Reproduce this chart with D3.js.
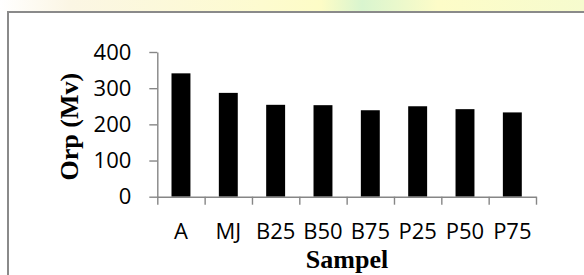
<!DOCTYPE html>
<html>
<head>
<meta charset="utf-8">
<script src="https://cdn.jsdelivr.net/npm/d3@7"></script>
<style>
  body { margin: 0; background: #fff; }
  svg { display: block; }
</style>
</head>
<body>
<div id="chart"></div>
<script>
const categories = ['A', 'MJ', 'B25', 'B50', 'B75', 'P25', 'P50', 'P75'];
const orpValues = [341, 287, 254, 253, 239, 250, 242, 233];
const yTicks = [0, 100, 200, 300, 400];

const width = 584;
const height = 275;
const margin = { top: 52, bottom: 78.3, left: 157.3, right: 48 };

const svg = d3.select('#chart')
  .append('svg')
  .attr('width', width)
  .attr('height', height)
  .attr('viewBox', [0, 0, width, height]);

// faint watermark strip above the chart frame
const grad = svg.append('defs').append('linearGradient')
  .attr('id', 'wm')
  .attr('x1', 0).attr('x2', 1).attr('y1', 0).attr('y2', 0);
grad.append('stop').attr('offset', '0').attr('stop-color', '#ffffff');
grad.append('stop').attr('offset', '0.12').attr('stop-color', '#fbf6e4');
grad.append('stop').attr('offset', '0.45').attr('stop-color', '#fdfbcf');
grad.append('stop').attr('offset', '0.55').attr('stop-color', '#fdfcc6');
grad.append('stop').attr('offset', '0.62').attr('stop-color', '#d9f5cf');
grad.append('stop').attr('offset', '0.75').attr('stop-color', '#fdfcc8');
grad.append('stop').attr('offset', '1').attr('stop-color', '#f6fbce');
svg.append('rect')
  .attr('x', 0).attr('y', 0)
  .attr('width', width).attr('height', 12)
  .attr('fill', 'url(#wm)');

// chart frame
svg.append('rect')
  .attr('x', 8).attr('y', 12)
  .attr('width', width + 10).attr('height', height)
  .attr('fill', '#fff')
  .attr('stroke', '#8a8a8a')
  .attr('stroke-width', 2);

const x = d3.scaleBand()
  .domain(categories)
  .range([margin.left, width - margin.right])
  .paddingInner(0.6)
  .paddingOuter(0.3);

const xEdges = d3.scaleLinear()
  .domain([0, categories.length])
  .range([margin.left, width - margin.right]);

const y = d3.scaleLinear()
  .domain([0, 400])
  .range([height - margin.bottom, margin.top]);

svg.append('g')
  .attr('fill', '#000')
  .selectAll('rect')
  .data(orpValues)
  .join('rect')
    .attr('x', (d, i) => x(categories[i]))
    .attr('y', d => y(d))
    .attr('width', x.bandwidth())
    .attr('height', d => y(0) - y(d));

function styleAxis(g) {
  g.selectAll('.domain, line').attr('stroke', '#868686').attr('stroke-width', 1.4);
  g.selectAll('text').attr('fill', '#000');
}

// y axis
svg.append('g')
  .attr('transform', `translate(${margin.left},0)`)
  .call(d3.axisLeft(y).tickValues(yTicks).tickSize(8).tickSizeOuter(0).tickPadding(18))
  .attr('font-family', '"Open Sans", sans-serif')
  .attr('font-size', 22)
  .call(styleAxis);

// x axis: ticks on band edges
svg.append('g')
  .attr('transform', `translate(0,${y(0)})`)
  .call(d3.axisBottom(xEdges).tickValues(d3.range(categories.length + 1)).tickFormat('').tickSize(8).tickSizeOuter(0))
  .call(styleAxis);

// x axis labels
svg.append('g')
  .attr('transform', `translate(0,${y(0)})`)
  .call(d3.axisBottom(x).tickSize(0).tickPadding(27))
  .attr('font-family', '"Open Sans", sans-serif')
  .attr('font-size', 22)
  .call(g => g.select('.domain').remove())
  .call(styleAxis);

svg.append('text')
  .attr('x', 347)
  .attr('y', 268)
  .attr('text-anchor', 'middle')
  .attr('font-family', '"Liberation Serif", "Times New Roman", serif')
  .attr('font-weight', 'bold')
  .attr('font-size', 26)
  .text('Sampel');

svg.append('text')
  .attr('transform', 'rotate(-90)')
  .attr('x', -126.7)
  .attr('y', 78)
  .attr('text-anchor', 'middle')
  .attr('font-family', '"Liberation Serif", "Times New Roman", serif')
  .attr('font-weight', 'bold')
  .attr('font-size', 26)
  .text('Orp (Mv)');
</script>
</body>
</html>
